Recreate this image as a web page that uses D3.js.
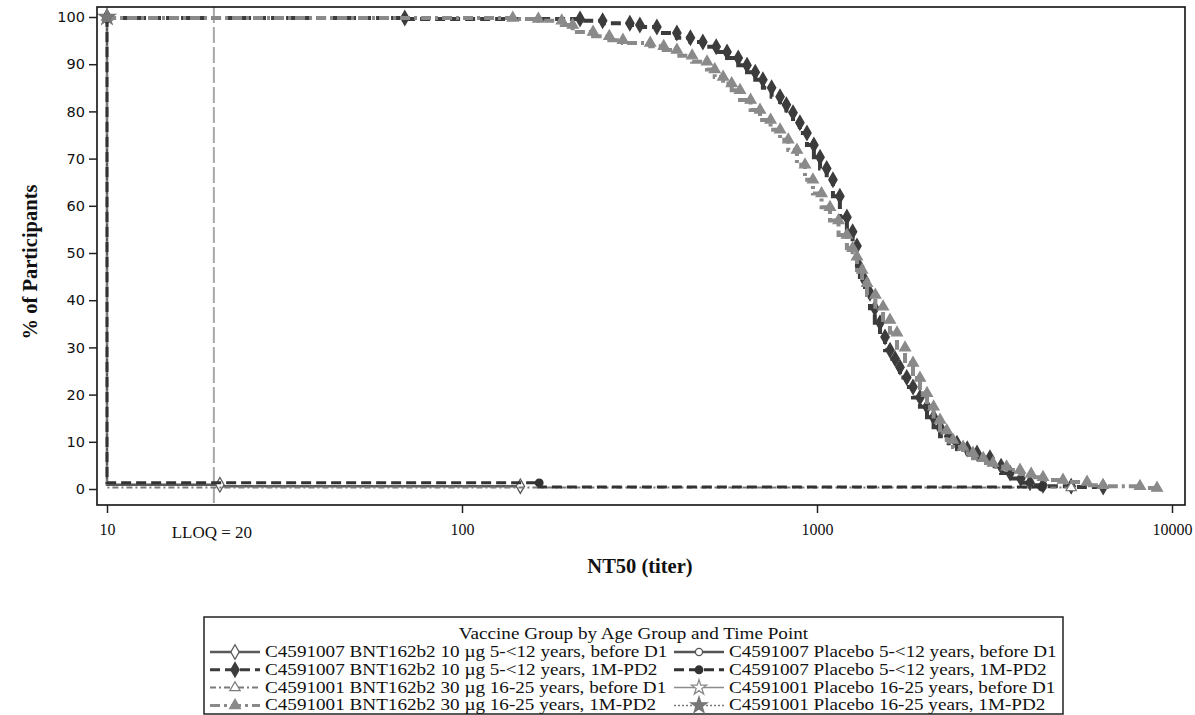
<!DOCTYPE html>
<html lang="en">
<head>
<meta charset="UTF-8">
<script src="https://d3js.org/d3.v7.min.js"></script>
<title>RCDC NT50</title>
<style>
  body { margin: 0; background: #fff; }
  svg { display: block; }
</style>
</head>
<body>
<div id="container"></div>
<script>
// legend labels, in SAS group order
const groupLabels = [
  "C4591007 BNT162b2 10 \u00b5g 5-<12 years, before D1",
  "C4591007 BNT162b2 10 \u00b5g 5-<12 years, 1M-PD2",
  "C4591001 BNT162b2 30 \u00b5g 16-25 years, before D1",
  "C4591001 BNT162b2 30 \u00b5g 16-25 years, 1M-PD2",
  "C4591007 Placebo 5-<12 years, before D1",
  "C4591007 Placebo 5-<12 years, 1M-PD2",
  "C4591001 Placebo 16-25 years, before D1",
  "C4591001 Placebo 16-25 years, 1M-PD2"
];

// [titer, % of participants with titer >= value]
const bnt10Pre = [[10, 100], [20.8, 0.9], [146, 0.6]];
const bnt10Post = [[10, 100], [69, 99.8], [215, 99.6], [249, 99.2], [297, 98.7], [317, 98.3],
  [354, 97.9], [403, 96.6], [440, 95.6], [477, 94.7], [520, 93.7], [558, 92.6], [600, 91.3],
  [635, 89.8], [670, 88.3], [704, 86.7], [745, 85.0], [787, 83.1], [820, 81.4], [856, 79.7],
  [895, 77.6], [937, 75.4], [980, 72.9], [1020, 70.3], [1065, 67.9], [1109, 65.5], [1160, 62.0],
  [1214, 57.6], [1260, 54.5], [1296, 51.5], [1321, 47.0], [1365, 44.2], [1410, 41.5],
  [1455, 38.3], [1505, 35.2], [1555, 32.2], [1606, 29.4], [1660, 27.6], [1713, 25.8],
  [1790, 23.6], [1864, 21.6], [1950, 19.4], [2041, 17.4], [2130, 15.2], [2221, 13.1],
  [2350, 11.2], [2479, 9.7], [2650, 8.5], [2823, 7.6], [3070, 6.6], [3300, 4.8], [3498, 3.4],
  [3750, 2.2], [3981, 1.3], [4332, 0.8], [5200, 0.6], [6400, 0.4]];
const bnt30Pre = [[10, 100], [5200, 0.3]];
const bnt30Post = [[10, 100], [139, 99.8], [164, 99.6], [191, 99.2], [205, 98.3], [234, 96.8],
  [260, 95.9], [284, 95.1], [339, 94.5], [370, 93.8], [403, 93.0], [445, 91.8], [490, 90.5],
  [515, 88.9], [544, 87.3], [575, 85.9], [607, 84.5], [650, 82.4], [691, 80.3], [740, 78.2],
  [787, 76.1], [830, 74.0], [878, 71.8], [925, 68.7], [974, 65.5], [1030, 62.6], [1088, 59.7],
  [1150, 56.9], [1214, 53.8], [1260, 51.0], [1296, 49.2], [1340, 46.4], [1383, 43.6],
  [1460, 41.1], [1535, 38.6], [1605, 35.8], [1680, 33.1], [1770, 29.9], [1864, 26.7],
  [1950, 23.5], [2041, 20.3], [2130, 17.4], [2221, 14.6], [2320, 12.4], [2416, 10.4],
  [2580, 8.9], [2750, 7.6], [2940, 6.5], [3131, 5.5], [3420, 4.7], [3731, 4.0], [4010, 3.2],
  [4332, 2.5], [4931, 1.9], [5763, 1.5], [6390, 0.8], [8125, 0.6], [9073, 0.2]];
const placebo7Pre = [[10, 100]];
const placebo7Post = [[10, 100], [165, 1.3], [4300, 0.4]];
const placebo1Pre = [[10, 100]];
const placebo1Post = [[10, 100]];

const seriesData = [bnt10Pre, bnt10Post, bnt30Pre, bnt30Post, placebo7Pre, placebo7Post, placebo1Pre, placebo1Post];

const xTicks = [10, 100, 1000, 10000];
const yTicks = [0, 10, 20, 30, 40, 50, 60, 70, 80, 90, 100];
const lloq = 20;

// grayscale SAS-like styles
const styles = [
  { color: "#5a5a5a", dash: null, width: 2.5, symbol: d3.symbolDiamond, size: 60, filled: false },
  { color: "#3c3c3c", dash: "10,5", width: 4, symbol: d3.symbolDiamond, size: 60, filled: true },
  { color: "#7a7a7a", dash: "6,3,2,3", width: 2, symbol: d3.symbolTriangle, size: 45, filled: false },
  { color: "#8a8a8a", dash: "10,4,3,4", width: 4, symbol: d3.symbolTriangle, size: 50, filled: true },
  { color: "#555", dash: null, width: 2.5, symbol: d3.symbolCircle, size: 40, filled: false },
  { color: "#333", dash: "10,5", width: 3, symbol: d3.symbolCircle, size: 45, filled: true },
  { color: "#8c8c8c", dash: null, width: 1.5, symbol: d3.symbolStar, size: 70, filled: false },
  { color: "#777", dash: "2,2", width: 1.5, symbol: d3.symbolStar, size: 80, filled: true }
];

const serif = "'Liberation Serif', 'Times New Roman', serif";
const W = 1195, H = 715;
const frame = { left: 97, right: 1185, top: 7, bottom: 505 };
const textStretch = 1.16;  // the scan is a little wider than tall

const svg = d3.select("#container").append("svg")
  .attr("width", W).attr("height", H);

const x = d3.scaleLog().domain([10, 10000]).range([frame.left + 10, frame.right - 13]);
const y = d3.scaleLinear().domain([0, 100]).range([frame.bottom - 16, frame.top + 10]);

svg.append("defs").append("clipPath").attr("id", "plotclip")
  .append("rect")
  .attr("x", frame.left).attr("y", frame.top)
  .attr("width", frame.right - frame.left).attr("height", frame.bottom - frame.top);

// LLOQ reference line
svg.append("line")
  .attr("x1", x(lloq)).attr("x2", x(lloq))
  .attr("y1", frame.top).attr("y2", frame.bottom)
  .attr("stroke", "#a8a8a8").attr("stroke-width", 2)
  .attr("stroke-dasharray", "16,4");

// curves
const line = d3.line()
  .x(d => x(d[0]))
  .y(d => y(d[1]))
  .curve(d3.curveStepBefore);

const plot = svg.append("g").attr("clip-path", "url(#plotclip)");

seriesData.forEach((data, i) => {
  const s = styles[i];
  const g = plot.append("g").attr("class", "series");
  g.append("path")
    .datum(data)
    .attr("d", line)
    .attr("fill", "none")
    .attr("stroke", s.color)
    .attr("stroke-width", s.width)
    .attr("stroke-dasharray", s.dash);
  g.selectAll("path.mark")
    .data(data)
    .enter()
    .append("path")
    .attr("class", "mark")
    .attr("transform", d => "translate(" + x(d[0]) + "," + y(d[1]) + ")")
    .attr("d", d3.symbol().type(s.symbol).size(s.size))
    .attr("fill", s.filled ? s.color : "#fff")
    .attr("stroke", s.color)
    .attr("stroke-width", 1.3);
});

// frame
svg.append("rect")
  .attr("x", frame.left).attr("y", frame.top)
  .attr("width", frame.right - frame.left).attr("height", frame.bottom - frame.top)
  .attr("fill", "none").attr("stroke", "#111").attr("stroke-width", 1.6);

// axes
const xAxis = svg.append("g")
  .attr("transform", "translate(0," + frame.bottom + ")")
  .call(d3.axisBottom(x).tickValues(xTicks).tickFormat(d3.format("d")).tickSize(8).tickPadding(11));
xAxis.select(".domain").remove();
xAxis.selectAll("line").attr("stroke", "#222").attr("stroke-width", 1.5);
xAxis.selectAll("text")
  .style("font-family", serif)
  .style("font-size", "16px").attr("fill", "#111");

const yAxis = svg.append("g")
  .attr("transform", "translate(" + frame.left + ",0)")
  .call(d3.axisLeft(y).tickValues(yTicks).tickSize(8).tickPadding(4));
yAxis.select(".domain").remove();
yAxis.selectAll("line").attr("stroke", "#222").attr("stroke-width", 1.5);
yAxis.selectAll("text")
  .style("font-family", "'DejaVu Sans', Verdana, sans-serif")
  .style("font-size", "14.5px").attr("fill", "#111");

svg.append("text")
  .attr("x", x(lloq) - 2).attr("y", frame.bottom + 33)
  .attr("text-anchor", "middle")
  .style("font-family", serif)
  .style("font-size", "17px").attr("fill", "#111")
  .text("LLOQ = 20");

// axis titles
svg.append("text")
  .attr("x", 640).attr("y", 573)
  .attr("text-anchor", "middle")
  .style("font-family", serif)
  .style("font-size", "20.5px").style("font-weight", "bold").attr("fill", "#111")
  .text("NT50 (titer)");

svg.append("text")
  .attr("transform", "translate(37,262) rotate(-90)")
  .attr("text-anchor", "middle")
  .style("font-family", serif)
  .style("font-size", "20.5px").style("font-weight", "bold").attr("fill", "#111")
  .text("% of Participants");

// legend
function stretch(sel) {
  sel.attr("textLength", function () { return this.getComputedTextLength() * textStretch; })
    .attr("lengthAdjust", "spacingAndGlyphs");
}

const legendBox = { left: 204, right: 1063, top: 617, bottom: 714 };
const legend = svg.append("g").attr("class", "legend");
legend.append("rect")
  .attr("x", legendBox.left).attr("y", legendBox.top)
  .attr("width", legendBox.right - legendBox.left).attr("height", legendBox.bottom - legendBox.top)
  .attr("fill", "#fff").attr("stroke", "#222").attr("stroke-width", 1.5);
legend.append("text")
  .attr("x", (legendBox.left + legendBox.right) / 2).attr("y", 639)
  .attr("text-anchor", "middle")
  .style("font-family", serif)
  .style("font-size", "16.5px").attr("fill", "#111")
  .text("Vaccine Group by Age Group and Time Point")
  .call(stretch);

const colX = [210, 674];
groupLabels.forEach((label, i) => {
  const s = styles[i];
  const col = i < 4 ? 0 : 1;
  const row = i % 4;
  const cy = 652 + row * 17.8;
  const x0 = colX[col];
  legend.append("line")
    .attr("x1", x0).attr("x2", x0 + 50)
    .attr("y1", cy).attr("y2", cy)
    .attr("stroke", s.color).attr("stroke-width", Math.min(s.width, 3))
    .attr("stroke-dasharray", s.dash);
  legend.append("path")
    .attr("transform", "translate(" + (x0 + 25) + "," + cy + ")")
    .attr("d", d3.symbol().type(s.symbol).size(s.size))
    .attr("fill", s.filled ? s.color : "#fff")
    .attr("stroke", s.color).attr("stroke-width", 1.3);
  legend.append("text")
    .attr("x", x0 + 55).attr("y", cy + 5)
    .style("font-family", serif)
    .style("font-size", "16.5px").attr("fill", "#111")
    .text(label)
    .call(stretch);
});
</script>
</body>
</html>
